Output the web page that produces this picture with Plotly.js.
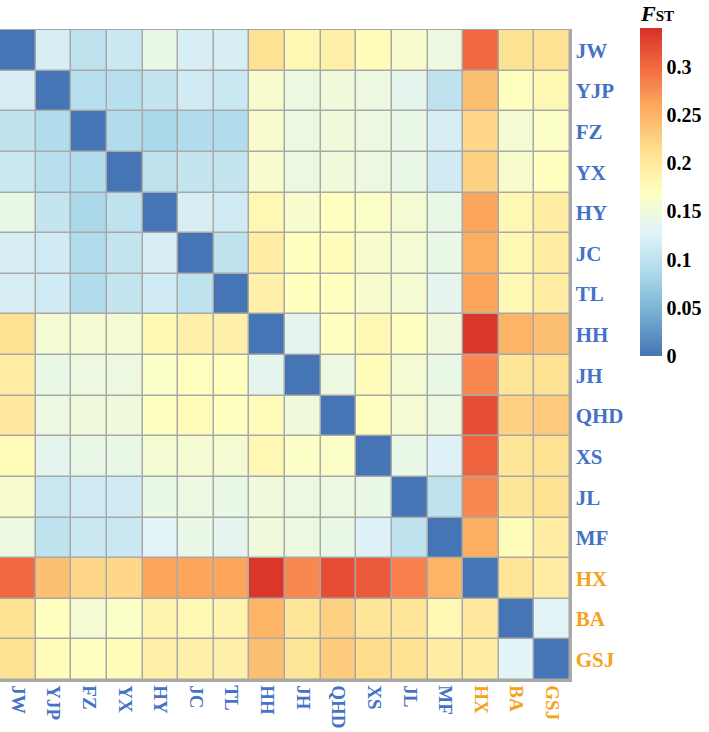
<!DOCTYPE html>
<html>
<head>
<meta charset="utf-8">
<script src="https://cdn.plot.ly/plotly-3.0.1.min.js"></script>
<style>html,body{margin:0;padding:0;background:#fff}#chart{width:709px;height:732px}</style>
</head>
<body>
<div id="chart"></div>
<script>
// Population labels
const pops = ["JW","YJP","FZ","YX","HY","JC","TL","HH","JH","QHD","XS","JL","MF","HX","BA","GSJ"];
const labelGroup = ["b","b","b","b","b","b","b","b","b","b","b","b","b","o","o","o"];

// Pairwise FST values (rows top to bottom, columns left to right)
const rowJW  = [0,     0.12,  0.10,  0.11,  0.14,  0.12,  0.12,  0.21,  0.18,  0.19,  0.175, 0.16,  0.145, 0.30,  0.21,  0.21 ];
const rowYJP = [0.12,  0,     0.095, 0.095, 0.105, 0.115, 0.11,  0.16,  0.145, 0.15,  0.145, 0.135, 0.10,  0.24,  0.17,  0.18 ];
const rowFZ  = [0.10,  0.09,  0,     0.09,  0.085, 0.09,  0.09,  0.16,  0.145, 0.15,  0.145, 0.14,  0.12,  0.22,  0.155, 0.165];
const rowYX  = [0.11,  0.095, 0.09,  0,     0.10,  0.105, 0.105, 0.16,  0.145, 0.15,  0.145, 0.14,  0.115, 0.225, 0.16,  0.17 ];
const rowHY  = [0.14,  0.105, 0.085, 0.10,  0,     0.12,  0.115, 0.18,  0.16,  0.17,  0.165, 0.155, 0.14,  0.26,  0.18,  0.195];
const rowJC  = [0.12,  0.115, 0.09,  0.105, 0.12,  0,     0.10,  0.195, 0.17,  0.175, 0.16,  0.155, 0.14,  0.255, 0.18,  0.195];
const rowTL  = [0.12,  0.115, 0.09,  0.105, 0.115, 0.10,  0,     0.19,  0.17,  0.17,  0.16,  0.155, 0.135, 0.26,  0.18,  0.195];
const rowHH  = [0.21,  0.155, 0.155, 0.155, 0.18,  0.19,  0.19,  0,     0.135, 0.17,  0.18,  0.17,  0.15,  0.335, 0.25,  0.24 ];
const rowJH  = [0.195, 0.14,  0.145, 0.145, 0.165, 0.17,  0.17,  0.135, 0,     0.145, 0.175, 0.155, 0.14,  0.28,  0.205, 0.21 ];
const rowQHD = [0.20,  0.145, 0.15,  0.15,  0.17,  0.175, 0.17,  0.175, 0.15,  0,     0.17,  0.155, 0.145, 0.32,  0.225, 0.23 ];
const rowXS  = [0.175, 0.135, 0.14,  0.14,  0.155, 0.155, 0.155, 0.18,  0.165, 0.165, 0,     0.14,  0.125, 0.305, 0.205, 0.21 ];
const rowJL  = [0.16,  0.11,  0.115, 0.115, 0.14,  0.145, 0.14,  0.15,  0.145, 0.145, 0.14,  0,     0.10,  0.28,  0.205, 0.21 ];
const rowMF  = [0.145, 0.10,  0.11,  0.11,  0.13,  0.14,  0.135, 0.15,  0.145, 0.14,  0.125, 0.10,  0,     0.255, 0.175, 0.195];
const rowHX  = [0.30,  0.24,  0.22,  0.22,  0.26,  0.26,  0.26,  0.335, 0.28,  0.32,  0.31,  0.285, 0.25,  0,     0.205, 0.195];
const rowBA  = [0.21,  0.17,  0.155, 0.165, 0.185, 0.18,  0.185, 0.25,  0.205, 0.225, 0.205, 0.205, 0.18,  0.20,  0,     0.13 ];
const rowGSJ = [0.21,  0.175, 0.17,  0.175, 0.19,  0.19,  0.19,  0.24,  0.205, 0.23,  0.215, 0.21,  0.195, 0.195, 0.13,  0    ];
const fst = [rowJW,rowYJP,rowFZ,rowYX,rowHY,rowJC,rowTL,rowHH,rowJH,rowQHD,rowXS,rowJL,rowMF,rowHX,rowBA,rowGSJ];

const cbTicks = [0, 0.05, 0.1, 0.15, 0.2, 0.25, 0.3];

const SERIF = "Liberation Serif, Times New Roman, serif";
const BLUE = "#4472C4", ORANGE = "#F5A21B";
const idx = pops.map((_, i) => i);
const tickText = pops.map((p, i) => `<span style="color:${labelGroup[i] === "o" ? ORANGE : BLUE}"><b>${p}</b></span>`);

const colorscale = [
  [0.000, "#4575b4"], [0.125, "#74add1"], [0.250, "#abd9e9"], [0.375, "#e0f3f8"],
  [0.500, "#ffffbf"], [0.625, "#fee090"], [0.750, "#fdae61"], [0.875, "#f46d43"], [1.000, "#d73027"]
];

const trace = {
  type: "heatmap",
  x: idx, y: idx, z: fst,
  zmin: 0, zmax: 0.34,
  colorscale: colorscale,
  xgap: 1.5, ygap: 1.5,
  colorbar: {
    x: 640 / 570, xanchor: "left", xref: "paper",
    y: 652 / 650, yanchor: "top",
    len: 328 / 650, lenmode: "fraction",
    xpad: 0, ypad: 0,
    thickness: 22,
    outlinewidth: 0,
    tickvals: cbTicks,
    ticktext: cbTicks.map(v => `<b>${v}</b>`),
    ticks: "",
    ticklabelpad: 10,
    tickfont: {family: SERIF, size: 20, color: "#000"}
  }
};

const layout = {
  width: 709, height: 732,
  margin: {l: 0, r: 139, t: 30, b: 52},
  paper_bgcolor: "#ffffff",
  plot_bgcolor: "#a8a8a8",
  xaxis: {
    tickvals: idx, ticktext: tickText, tickangle: 90,
    range: [-0.5, 15.5], showgrid: false, zeroline: false,
    ticks: "", ticklen: 0,
    showline: true, linecolor: "#a8a8a8", linewidth: 1.5, mirror: true,
    tickfont: {family: SERIF, size: 19},
    fixedrange: true
  },
  yaxis: {
    tickvals: idx, ticktext: tickText, side: "right",
    range: [15.5, -0.5], showgrid: false, zeroline: false,
    ticks: "", ticklen: 0,
    showline: true, linecolor: "#a8a8a8", linewidth: 1.5, mirror: true,
    tickfont: {family: SERIF, size: 21},
    fixedrange: true
  },
  annotations: [{
    xref: "paper", yref: "paper",
    x: 657 / 570, y: (680 - 14) / 650,
    xanchor: "center", yanchor: "middle",
    showarrow: false,
    text: '<b><i>F</i><span style="font-size:15px">ST</span></b>',
    font: {family: SERIF, size: 22, color: "#000"}
  }],
  font: {family: SERIF}
};

Plotly.newPlot("chart", [trace], layout, {displayModeBar: false, staticPlot: true});
</script>
</body>
</html>
